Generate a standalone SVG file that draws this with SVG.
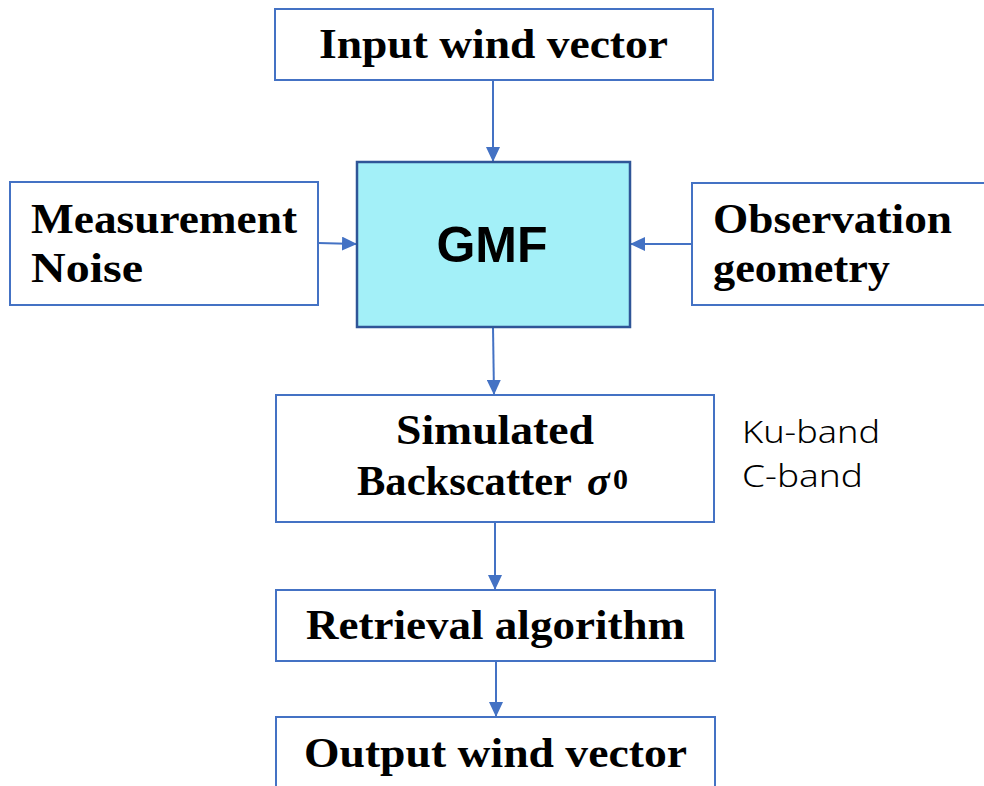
<svg xmlns="http://www.w3.org/2000/svg" width="984" height="786" viewBox="0 0 984 786">
<style>
.box{fill:#ffffff;stroke:#4472C4;stroke-width:2}
.gmf{fill:#A3F0F8;stroke:#2F5597;stroke-width:2.5}
.t{font-family:"Liberation Serif","DejaVu Serif",serif;font-weight:bold;font-size:42px;fill:#000}
.sup{font-family:"Liberation Serif","DejaVu Serif",serif;font-weight:bold;font-size:30px;fill:#000}
.c{font-family:"Noto Sans","DejaVu Sans",sans-serif;font-weight:300;font-size:31px;fill:#000}
.edge{stroke:#4472C4;stroke-width:2;fill:none}
</style>
<defs>
<marker id="ah" markerWidth="16" markerHeight="14" refX="15" refY="7" orient="auto" markerUnits="userSpaceOnUse">
<path d="M0,0 L15,7 L0,14 Z" fill="#4472C4"/>
</marker>
</defs>
<rect width="984" height="786" fill="#ffffff"/>
<g id="connectors">
<line class="edge" x1="493" y1="80" x2="493" y2="162" marker-end="url(#ah)"/>
<line class="edge" x1="318" y1="243" x2="357" y2="244" marker-end="url(#ah)"/>
<line class="edge" x1="692" y1="244" x2="630" y2="244" marker-end="url(#ah)"/>
<line class="edge" x1="493" y1="327" x2="494" y2="395" marker-end="url(#ah)"/>
<line class="edge" x1="495" y1="522" x2="495" y2="590" marker-end="url(#ah)"/>
<line class="edge" x1="496" y1="661" x2="496" y2="717" marker-end="url(#ah)"/>
</g>
<g id="input">
<rect class="box" x="275" y="9" width="438" height="71"/>
<text class="t" x="319" y="58" textLength="349" lengthAdjust="spacingAndGlyphs">Input wind vector</text>
</g>
<g id="gmf">
<rect class="gmf" x="357" y="162" width="273" height="165"/>
<text x="492" y="262" text-anchor="middle" font-family="Liberation Sans, Arial, sans-serif" font-weight="bold" font-size="50">GMF</text>
</g>
<g id="noise">
<rect class="box" x="10" y="182" width="308" height="123"/>
<text class="t" x="31" y="233" textLength="266" lengthAdjust="spacingAndGlyphs">Measurement</text>
<text class="t" x="31" y="282" textLength="112" lengthAdjust="spacingAndGlyphs">Noise</text>
</g>
<g id="geometry">
<rect class="box" x="692" y="183" width="300" height="122"/>
<text class="t" x="713" y="233" textLength="239" lengthAdjust="spacingAndGlyphs">Observation</text>
<text class="t" x="713" y="282" textLength="177" lengthAdjust="spacingAndGlyphs">geometry</text>
</g>
<g id="simulated">
<rect class="box" x="276" y="395" width="438" height="127"/>
<text class="t" x="396" y="444" textLength="198" lengthAdjust="spacingAndGlyphs">Simulated</text>
<text class="t" x="357" y="495"><tspan textLength="215" lengthAdjust="spacingAndGlyphs">Backscatter</tspan><tspan x="587" font-style="italic">σ</tspan></text>
<text class="sup" x="613" y="489">0</text>
</g>
<g id="bands">
<text class="c" x="742" y="443" textLength="138" lengthAdjust="spacingAndGlyphs">Ku-band</text>
<text class="c" x="742" y="487" textLength="121" lengthAdjust="spacingAndGlyphs">C-band</text>
</g>
<g id="retrieval">
<rect class="box" x="276" y="590" width="439" height="71"/>
<text class="t" x="306" y="639" textLength="379" lengthAdjust="spacingAndGlyphs">Retrieval algorithm</text>
</g>
<g id="output">
<rect class="box" x="276" y="717" width="439" height="90"/>
<text class="t" x="304" y="767" textLength="383" lengthAdjust="spacingAndGlyphs">Output wind vector</text>
</g>
</svg>
